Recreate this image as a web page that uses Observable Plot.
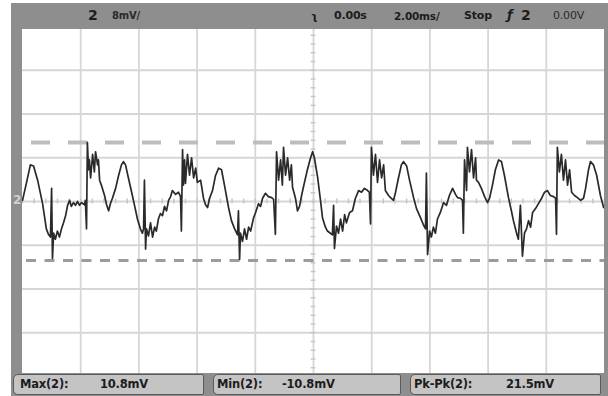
<!DOCTYPE html>
<html><head><meta charset="utf-8">
<script src="https://cdn.jsdelivr.net/npm/d3@7"></script>
<script src="https://cdn.jsdelivr.net/npm/@observablehq/plot@0.6"></script>
<style>
body{margin:0;background:#fff;}
#wrap{position:relative;width:608px;height:396px;overflow:hidden;font-family:"DejaVu Sans",sans-serif;}
#chart{position:absolute;left:0;top:0;}
.bz{position:absolute;background:#8e8e8e;}
.lbl{position:absolute;font-size:11px;font-weight:bold;color:#1c1c1c;white-space:nowrap;line-height:12px;letter-spacing:-0.2px;}
.box{position:absolute;top:374px;height:21px;background:#c4c4c4;border:1px solid #5a5a5a;border-radius:5px 2px 2px 5px;box-sizing:border-box;}
</style></head>
<body><div id="wrap">
<div id="chart"></div>
<div class="bz" style="left:11px;top:3px;width:597px;height:26px"></div>
<div class="bz" style="left:11px;top:3px;width:11px;height:393px"></div>
<div class="bz" style="left:604px;top:3px;width:4px;height:393px"></div>
<div class="bz" style="left:11px;top:373px;width:597px;height:23px"></div>
<div class="box" style="left:13px;width:191px"></div>
<div class="box" style="left:213px;width:188px"></div>
<div class="box" style="left:410px;width:191px"></div>
<div id="labels"></div>
</div>
<script>
// ---- scope settings / labels ----
const chLabel = "2";
const voltsPerDiv = "8mV/";
const trigDelay = "0.00s";
const timePerDiv = "2.00ms/";
const runState = "Stop";
const trigSrc = "2";
const trigLevel = "0.00V";
const measNames = ["Max(2):", "Min(2):", "Pk-Pk(2):"];
const measValues = ["10.8mV", "-10.8mV", "21.5mV"];
const measMax = 10.8;   // mV
const measMin = -10.8;  // mV

// ---- graticule (ms, mV) ----
const xGrid = [-8, -6, -4, -2, 0, 2, 4, 6, 8];
const yGrid = [-24, -16, -8, 0, 8, 16, 24];
const xMinor = d3.range(-10, 10.001, 0.4);
const yMinor = d3.range(-32, 32.001, 1.6);

// ---- waveform samples: time (ms), voltage (mV) ----
const timeMs = [
-10.00,-9.86,-9.73,-9.62,-9.48,-9.31,-9.18,-9.11,-9.04,-9.00,-8.97,-8.93,-8.87,-8.80,-8.73,-8.66,-8.59,-8.52,-8.45,-8.38,
-8.32,-8.25,-8.18,-8.11,-8.04,-7.97,-7.87,-7.84,-7.80,-7.77,-7.73,-7.70,-7.66,-7.59,-7.53,-7.49,-7.42,-7.39,-7.35,-7.29,
-7.18,-7.11,-7.04,-6.98,-6.91,-6.80,-6.70,-6.60,-6.53,-6.46,-6.36,-6.25,-6.15,-6.05,-5.95,-5.88,-5.84,-5.81,-5.77,-5.74,
-5.67,-5.60,-5.53,-5.46,-5.40,-5.33,-5.26,-5.19,-5.12,-5.05,-4.98,-4.91,-4.85,-4.74,-4.64,-4.57,-4.54,-4.50,-4.47,-4.43,
-4.40,-4.33,-4.26,-4.19,-4.12,-4.05,-3.99,-3.88,-3.78,-3.71,-3.64,-3.57,-3.47,-3.37,-3.26,-3.16,-3.06,-2.92,-2.82,-2.71,
-2.61,-2.58,-2.54,-2.51,-2.44,-2.37,-2.30,-2.23,-2.16,-2.06,-1.99,-1.89,-1.82,-1.75,-1.65,-1.55,-1.44,-1.37,-1.31,-1.27,
-1.20,-1.13,-1.07,-1.03,-0.96,-0.89,-0.82,-0.76,-0.72,-0.62,-0.55,-0.48,-0.41,-0.31,-0.21,-0.10,-0.03,0.03,0.14,0.24,
0.31,0.41,0.48,0.58,0.65,0.69,0.72,0.79,0.86,0.93,1.00,1.07,1.13,1.24,1.34,1.44,1.55,1.65,1.75,1.86,
1.92,1.96,1.99,2.06,2.13,2.20,2.27,2.34,2.41,2.47,2.58,2.65,2.75,2.82,2.92,3.02,3.09,3.20,3.30,3.44,
3.54,3.68,3.78,3.85,3.88,3.92,3.99,4.05,4.12,4.19,4.26,4.36,4.47,4.57,4.67,4.78,4.88,4.95,5.05,5.12,
5.15,5.19,5.26,5.29,5.36,5.43,5.50,5.57,5.60,5.67,5.77,5.88,5.98,6.05,6.15,6.25,6.36,6.46,6.56,6.70,
6.80,6.87,6.98,7.04,7.11,7.18,7.25,7.32,7.39,7.46,7.53,7.63,7.73,7.84,7.94,8.04,8.14,8.25,8.32,8.35,
8.38,8.45,8.52,8.59,8.66,8.73,8.80,8.87,8.97,9.07,9.18,9.28,9.35,9.45,9.52,9.62,9.73,9.86,9.97
];
const voltMv = [
0.2,3.5,6.7,6.5,3.9,-0.4,-5.0,-6.0,-6.5,2.4,-10.4,-5.8,-6.9,-5.4,-6.5,-5.0,-3.9,-2.6,-0.7,0.2,
-0.9,-0.2,-0.7,0.0,-0.7,-0.2,-0.6,0.2,-5.0,10.8,5.8,7.6,4.3,8.6,5.4,9.1,6.7,7.6,3.9,3.0,
1.1,-0.6,-1.7,-0.4,0.6,2.4,4.7,6.7,7.3,6.7,4.3,1.7,-0.7,-3.2,-5.0,-5.8,-5.0,3.9,-8.7,-5.0,
-6.3,-3.9,-6.5,-4.7,-5.4,-3.2,-2.2,-2.6,-0.9,-1.7,0.2,0.9,2.0,1.3,1.7,0.9,-5.4,9.5,3.0,7.6,
3.3,8.6,4.8,8.0,4.3,6.1,3.5,3.9,0.6,-0.6,-1.1,0.6,2.0,4.7,6.1,5.8,3.0,-1.1,-3.5,-5.0,
-6.1,-1.7,-10.6,-5.8,-7.3,-5.0,-6.9,-4.7,-5.4,-3.0,-2.0,-0.4,-0.9,0.6,1.5,0.9,0.7,0.4,-6.0,9.1,
3.9,7.6,3.0,9.9,4.8,8.0,3.9,6.7,2.6,0.6,-1.7,-0.9,1.1,3.5,5.8,8.0,9.1,8.0,4.5,0.2,
-3.0,-4.7,-5.4,-5.8,-6.1,-0.7,-8.6,-4.5,-5.8,-3.2,-5.4,-2.4,-3.9,-2.0,-1.7,0.6,2.0,1.7,2.4,2.0,
1.7,-4.1,9.9,4.8,8.6,3.5,7.6,4.3,6.7,2.0,1.1,0.7,0.2,1.7,4.3,6.7,7.3,6.5,3.9,0.7,
-1.3,-3.0,-4.3,-5.0,5.2,-9.7,-5.4,-6.5,-4.7,-5.8,-3.2,-2.0,-0.2,-0.7,1.1,2.4,1.3,0.7,0.6,0.2,
-5.8,7.6,2.0,9.9,5.4,9.5,4.3,8.0,3.9,3.5,2.4,0.9,-0.2,0.6,3.0,5.8,7.6,7.3,4.8,0.7,
-1.7,-3.5,-5.8,-6.9,-0.7,-10.0,-5.8,-5.0,-3.5,-4.7,-2.0,-1.3,-0.4,0.6,1.7,2.0,1.1,0.9,0.6,-6.0,
9.9,5.4,8.6,3.9,7.6,3.0,5.8,1.7,1.1,0.7,0.2,0.6,2.4,5.8,7.3,6.7,4.8,1.1,-1.1
];
const trace = timeMs.map((t, i) => ({t, v: voltMv[i]}));

const chart = Plot.plot({
  width: 608, height: 396,
  marginLeft: 22, marginRight: 4, marginTop: 26, marginBottom: 20,
  x: {domain: [-10, 10], axis: null},
  y: {domain: [-32, 32], axis: null},
  style: {background: "transparent"},
  marks: [
    Plot.frame({fill: "white", stroke: "none"}),
    Plot.ruleX(xGrid, {stroke: "#d6d6d6", strokeWidth: 1.8}),
    Plot.ruleY(yGrid, {stroke: "#d6d6d6", strokeWidth: 1.8}),
    Plot.ruleX(xMinor, {y1: -0.45, y2: 0.45, stroke: "#c4c4c4", strokeWidth: 1.4}),
    Plot.ruleY(yMinor, {x1: -0.08, x2: 0.08, stroke: "#c4c4c4", strokeWidth: 1.4}),
    Plot.ruleY([measMax], {stroke: "#bdbdbd", strokeWidth: 4, strokeDasharray: "19,18", strokeDashoffset: 28}),
    Plot.ruleY([measMin], {stroke: "#9c9c9c", strokeWidth: 3, strokeDasharray: "10,8.5", strokeDashoffset: 14.5}),
    Plot.line(trace, {x: "t", y: "v", stroke: "#2a2a2a", strokeWidth: 1.7, strokeLinejoin: "round"})
  ]
});
document.getElementById("chart").appendChild(chart);

// ---- labels ----
const L = document.getElementById("labels");
function lab(text, left, top, extra) {
  const s = document.createElement("div");
  s.className = "lbl";
  s.textContent = text;
  s.style.left = left + "px";
  s.style.top = top + "px";
  if (extra) Object.assign(s.style, extra);
  L.appendChild(s);
}
lab(chLabel, 88, 9, {fontSize: "14px"});
lab(voltsPerDiv, 112, 10, {fontSize: "10px", color: "#2a2a2a"});
lab("\u0285", 311, 11, {fontSize: "11px"});
lab(trigDelay, 334, 10);
lab(timePerDiv, 394, 10, {fontSize: "10.5px"});
lab(runState, 464, 10);
lab("\u0192", 507, 9, {fontSize: "13px", fontStyle: "italic"});
lab(trigSrc, 521, 9, {fontSize: "14px"});
lab(trigLevel, 553, 10, {color: "#2a2a2a", fontWeight: "normal"});
lab(chLabel, 13, 194, {fontSize: "12px", color: "#d0d0d0"});
lab(measNames[0], 20, 378, {fontSize: "11.5px"});
lab(measValues[0], 100, 378, {fontSize: "11.5px"});
lab(measNames[1], 217, 378, {fontSize: "11.5px"});
lab(measValues[1], 282, 378, {fontSize: "11.5px"});
lab(measNames[2], 414, 378, {fontSize: "11.5px"});
lab(measValues[2], 506, 378, {fontSize: "11.5px"});
</script>
</body></html>
